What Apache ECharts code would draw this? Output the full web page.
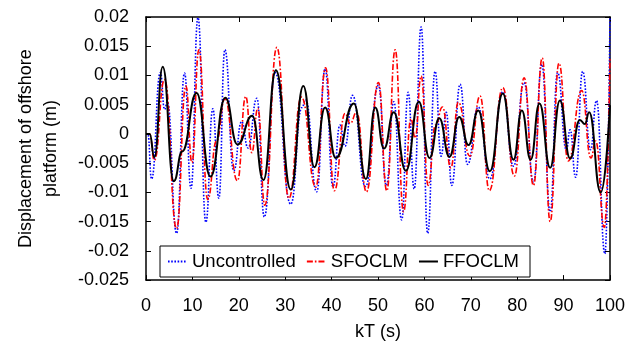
<!DOCTYPE html>
<html>
<head>
<meta charset="utf-8">
<script src="https://cdn.jsdelivr.net/npm/echarts@6/dist/echarts.min.js"></script>
<style>html,body{margin:0;padding:0;background:#fff;}#c{width:629px;height:349px;}</style>
</head>
<body>
<div id="c"></div>
<script>
// ---- data (turning points of each curve) ----
var seriesNames = ['Uncontrolled', 'SFOCLM', 'FFOCLM'];
var xTicks = [0, 10, 20, 30, 40, 50, 60, 70, 80, 90, 100];
var yTicks = [-0.025, -0.02, -0.015, -0.01, -0.005, 0, 0.005, 0.01, 0.015, 0.02];

var uncontrolledT = [0, 0.4, 1.2, 3.1, 4.0, 4.6, 6.6, 8.3, 9.7, 11.2, 12.9, 14.4, 15.7, 17.0, 18.9, 20.6, 22.0, 23.9, 25.5, 27.8, 31.2, 33.6, 34.4, 36.8, 38.6, 40.3, 41.8, 42.9, 44.5, 47.3, 50.1, 51.8, 53.4, 55.1, 56.5, 57.8, 59.3, 60.7, 62.3, 63.6, 64.7, 65.9, 67.7, 69.3, 71.6, 74.1, 76.9, 79.2, 81.5, 83.5, 85.3, 87.1, 88.7, 90.6, 91.4, 92.6, 94.1, 95.8, 97.1, 98.9, 100];
var uncontrolledV = [0, 0, -0.0077, 0.0105, 0.0042, 0.0055, -0.017, 0.0104, -0.0093, 0.0199, -0.0151, 0.0043, -0.011, 0.0144, -0.0063, 0.0021, -0.0024, 0.0061, -0.0142, 0.0105, -0.012, 0.0045, 0.0058, -0.0099, 0.0111, -0.009, 0.0015, -0.0021, 0.0066, -0.009, 0.0083, -0.0088, 0.0055, -0.0147, 0.0071, -0.0094, 0.0183, -0.017, 0.0107, -0.0038, 0.0037, -0.0088, 0.0085, -0.0052, 0.0046, -0.0077, 0.0072, -0.0055, 0.0088, -0.0083, 0.0119, -0.0133, 0.0105, -0.0027, 0.0007, -0.0074, 0.0107, -0.0027, 0.0057, -0.0205, 0.02];

var sfoclmT = [0, 0.8, 1.8, 4.0, 6.6, 8.6, 9.9, 11.4, 13.3, 15.2, 17.0, 19.7, 21.5, 22.8, 24.1, 25.6, 28.2, 30.8, 33.5, 36.6, 38.7, 40.6, 42.9, 44.0, 45.4, 47.5, 50.1, 51.9, 53.7, 55.5, 57.1, 58.0, 59.3, 60.8, 62.4, 63.9, 65.7, 67.3, 69.8, 72.0, 74.0, 76.9, 79.4, 81.5, 83.5, 85.4, 87.1, 89.0, 91.0, 93.9, 95.9, 96.9, 98.8, 100];
var sfoclmV = [0, 0, -0.0045, 0.0093, -0.0162, 0.0082, -0.0049, 0.0144, -0.0112, -0.0012, 0.006, -0.008, 0.0064, -0.0032, 0.0044, -0.0122, 0.0148, -0.011, 0.0063, -0.0091, 0.0113, -0.0097, 0.0035, 0.0018, 0.0037, -0.0099, 0.0088, -0.0097, 0.0144, -0.0133, 0.0026, -0.0007, 0.0099, -0.0088, 0.0015, 0.0046, -0.0058, 0.0054, -0.0038, 0.0065, -0.0097, 0.0079, -0.0072, 0.0096, -0.0088, 0.013, -0.015, 0.0121, -0.0046, 0.0074, -0.0041, -0.0012, -0.016, 0.013];

var ffoclmT = [0, 0.8, 1.8, 3.6, 6.0, 7.8, 10.9, 13.9, 17.1, 19.7, 22.9, 25.3, 28.0, 31.2, 33.9, 36.3, 38.6, 40.9, 44.8, 47.4, 49.4, 51.3, 53.4, 56.0, 58.8, 61.1, 63.2, 65.4, 67.5, 69.5, 71.6, 74.1, 76.9, 79.2, 81.0, 82.9, 84.8, 87.1, 89.2, 91.4, 93.5, 94.6, 95.5, 98.0, 100];
var ffoclmV = [0, 0, -0.004, 0.0115, -0.0081, -0.003, 0.007, -0.0073, 0.0062, -0.0018, 0.0031, -0.0079, 0.0109, -0.0095, 0.0082, -0.0057, 0.0045, -0.0041, 0.0052, -0.0077, 0.0045, -0.0025, 0.0037, -0.0063, 0.0055, -0.0041, 0.0027, -0.0039, 0.0029, -0.0019, 0.004, -0.0064, 0.0069, -0.0044, 0.004, -0.0044, 0.0052, -0.0058, 0.0057, -0.0042, 0.0024, 0.0017, 0.0037, -0.01, 0.0049];

function pairs(t, v) { return t.map(function (x, i) { return [x, v[i]]; }); }

var FONT = 'Liberation Sans, Arial, sans-serif';
var xMin = xTicks[0], xMax = xTicks[xTicks.length - 1], xStep = xTicks[1] - xTicks[0];
var yMin = yTicks[0], yMax = yTicks[yTicks.length - 1], yStep = 0.005;

function fmtY(v) {
  var r = Math.round(v * 1000) / 1000;
  return String(r);
}

var tickStyle = { show: true, inside: true, length: 5, lineStyle: { color: '#000', width: 1 } };
var lineAx = { show: true, onZero: false, lineStyle: { color: '#000', width: 1.5 } };

var chart = echarts.init(document.getElementById('c'), null, { renderer: 'canvas' });
chart.setOption({
  animation: false,
  backgroundColor: '#fff',
  textStyle: { fontFamily: FONT },
  grid: { left: 146, right: 19, top: 17, bottom: 64, show: false },
  legend: {
    data: seriesNames,
    left: 160, top: 246,
    orient: 'horizontal',
    padding: [6, 11, 6, 7],
    itemGap: 10,
    itemWidth: 19,
    itemHeight: 10,
    borderColor: '#000',
    borderWidth: 1,
    backgroundColor: '#fff',
    itemStyle: { color: 'rgba(0,0,0,0)', borderWidth: 0, opacity: 0 },
    textStyle: { fontFamily: FONT, fontSize: 18.5, color: '#000', padding: [0, 0, 0, 0] }
  },
  xAxis: [{
    type: 'value', min: xMin, max: xMax, interval: xStep,
    name: 'kT (s)', nameLocation: 'middle', nameGap: 39,
    nameTextStyle: { fontFamily: FONT, fontSize: 18, color: '#000', lineHeight: 24 },
    axisLine: lineAx, axisTick: tickStyle,
    axisLabel: { fontFamily: FONT, fontSize: 18, color: '#000', margin: 17 },
    splitLine: { show: false }
  }, {
    type: 'value', position: 'top', min: xMin, max: xMax, interval: xStep,
    axisLine: lineAx, axisTick: tickStyle, axisLabel: { show: false }, splitLine: { show: false }
  }],
  yAxis: [{
    type: 'value', min: yMin, max: yMax, interval: yStep,
    name: 'Displacement of offshore\nplatform (m)', nameLocation: 'middle', nameGap: 82,
    nameTextStyle: { fontFamily: FONT, fontSize: 18, color: '#000', lineHeight: 25, align: 'center' },
    axisLine: lineAx, axisTick: tickStyle,
    axisLabel: { fontFamily: FONT, fontSize: 18, color: '#000', margin: 17, formatter: fmtY },
    splitLine: { show: false }
  }, {
    type: 'value', position: 'right', min: yMin, max: yMax, interval: yStep,
    axisLine: lineAx, axisTick: tickStyle, axisLabel: { show: false }, splitLine: { show: false }
  }],
  series: [{
    name: seriesNames[0], type: 'line', xAxisIndex: 0, yAxisIndex: 0,
    data: pairs(uncontrolledT, uncontrolledV),
    symbol: 'none', showSymbol: false, smooth: 0.5, smoothMonotone: 'x',
    lineStyle: { color: '#0000ff', width: 1.6, type: [1.6, 1.6] },
    itemStyle: { color: '#0000ff' }
  }, {
    name: seriesNames[1], type: 'line', xAxisIndex: 0, yAxisIndex: 0,
    data: pairs(sfoclmT, sfoclmV),
    symbol: 'none', showSymbol: false, smooth: 0.5, smoothMonotone: 'x',
    lineStyle: { color: '#ff0000', width: 1.6, type: [6, 2, 1.6, 2] },
    itemStyle: { color: '#ff0000' }
  }, {
    name: seriesNames[2], type: 'line', xAxisIndex: 0, yAxisIndex: 0,
    data: pairs(ffoclmT, ffoclmV),
    symbol: 'none', showSymbol: false, smooth: 0.5, smoothMonotone: 'x',
    lineStyle: { color: '#000000', width: 2 },
    itemStyle: { color: '#000000' }
  }]
});
</script>
</body>
</html>
